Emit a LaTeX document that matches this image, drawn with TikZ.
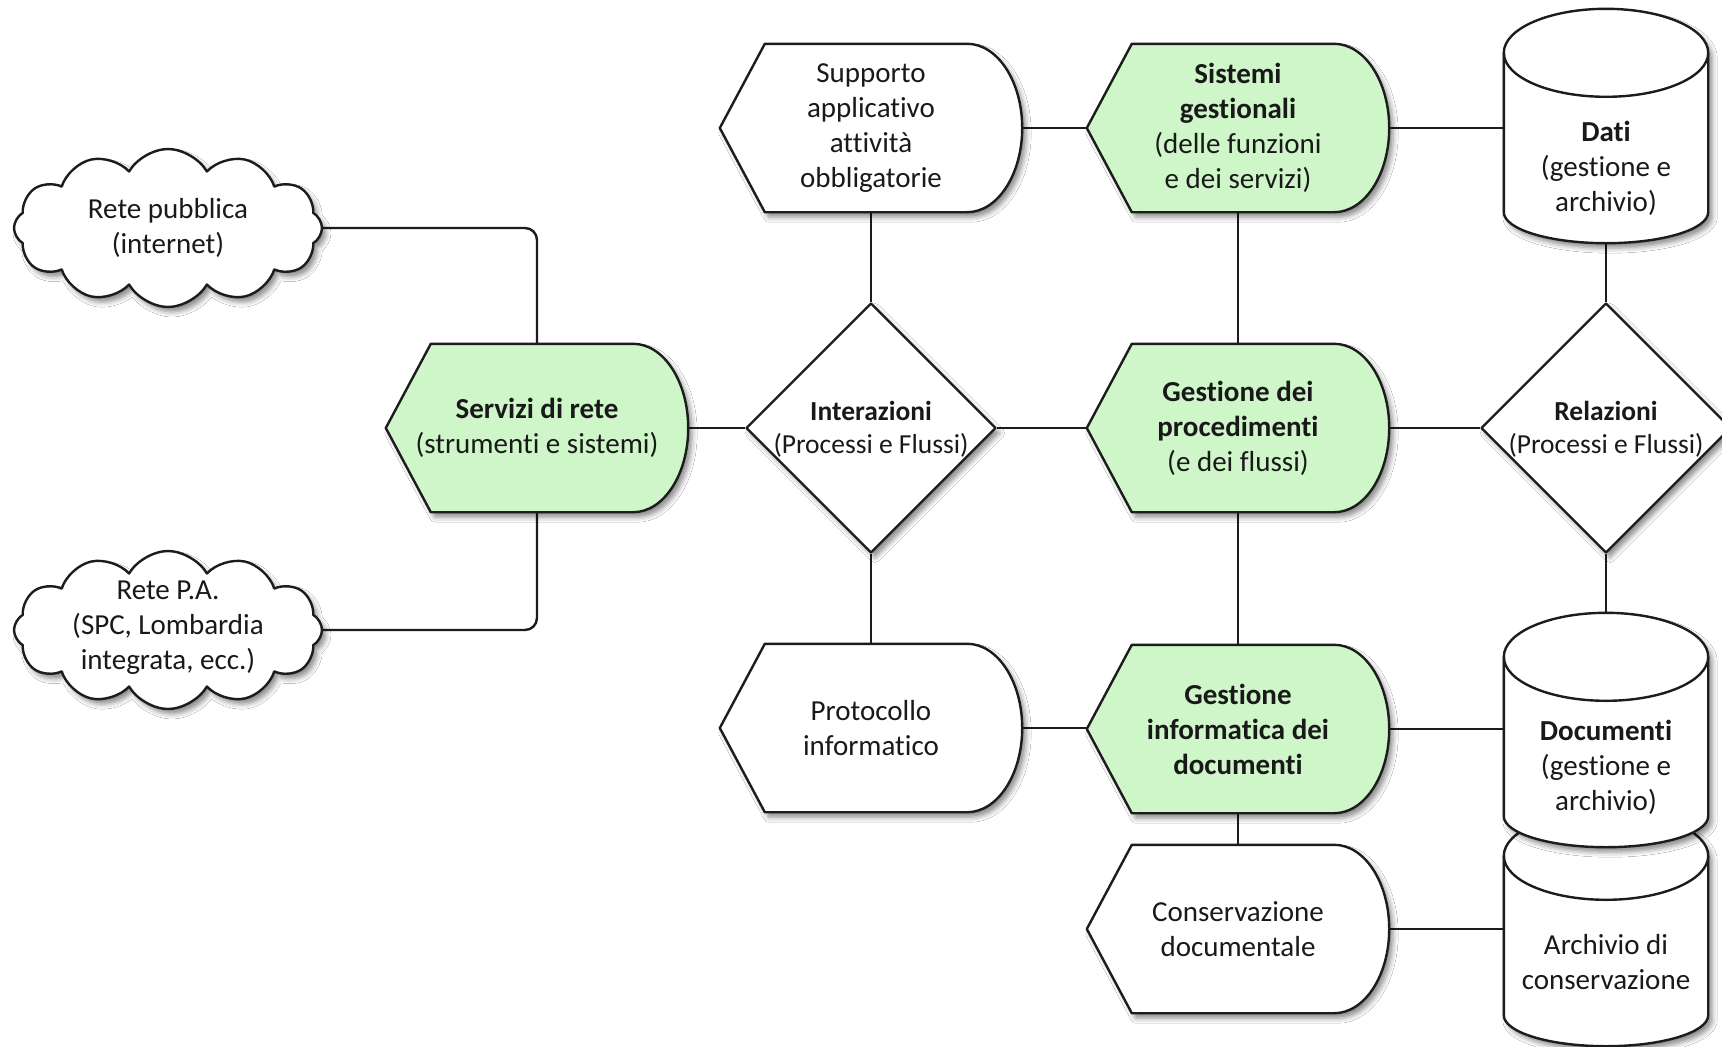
\documentclass[tikz,border=0pt]{standalone}
\usepackage{fontspec}
\setmainfont{Carlito}[Ligatures={NoCommon}]
\usetikzlibrary{shapes.geometric,shapes.symbols,shadows.blur}

\makeatletter
% Flowchart "display" outline: pointed left end, flat top and bottom, rounded right end
\pgfdeclareshape{displaybox}{
  \inheritsavedanchors[from=rectangle]
  \inheritanchorborder[from=rectangle]
  \inheritanchor[from=rectangle]{center}
  \inheritanchor[from=rectangle]{north}
  \inheritanchor[from=rectangle]{south}
  \inheritanchor[from=rectangle]{east}
  \inheritanchor[from=rectangle]{west}
  \backgroundpath{
    \southwest \edef\dsxa{\the\pgf@x}\edef\dsya{\the\pgf@y}
    \northeast \edef\dsxb{\the\pgf@x}\edef\dsyb{\the\pgf@y}
    \pgfmathsetmacro\dsym{(\dsya+\dsyb)/2}
    \pgfmathsetmacro\dsry{(\dsyb-\dsya)/2}
    \pgfpathmoveto{\pgfpoint{\dsxa}{\dsym pt}}
    \pgfpathlineto{\pgfpoint{\dsxa+45pt}{\dsyb}}
    \pgfpathlineto{\pgfpoint{\dsxb-55pt}{\dsyb}}
    \pgfpatharc{90}{-90}{55pt and \dsry pt}
    \pgfpathlineto{\pgfpoint{\dsxa+45pt}{\dsya}}
    \pgfpathclose
  }
}
% Upright storage cylinder: tall top ellipse, flatter bottom arc
\pgfdeclareshape{dbcylinder}{
  \inheritsavedanchors[from=rectangle]
  \inheritanchorborder[from=rectangle]
  \inheritanchor[from=rectangle]{center}
  \inheritanchor[from=rectangle]{north}
  \inheritanchor[from=rectangle]{south}
  \inheritanchor[from=rectangle]{east}
  \inheritanchor[from=rectangle]{west}
  \backgroundpath{
    \southwest \edef\cyxa{\the\pgf@x}\edef\cyya{\the\pgf@y}
    \northeast \edef\cyxb{\the\pgf@x}\edef\cyyb{\the\pgf@y}
    \pgfmathsetmacro\cyrx{(\cyxb-\cyxa)/2}
    \pgfpathmoveto{\pgfpoint{\cyxa}{\cyyb-44pt}}
    \pgfpathlineto{\pgfpoint{\cyxa}{\cyya+31pt}}
    \pgfpatharc{180}{360}{\cyrx pt and 31pt}
    \pgfpathlineto{\pgfpoint{\cyxb}{\cyyb-44pt}}
    \pgfpatharc{0}{180}{\cyrx pt and 44pt}
    \pgfpathclose
  }
  \beforeforegroundpath{
    \southwest \edef\cyxa{\the\pgf@x}
    \northeast \edef\cyxb{\the\pgf@x}\edef\cyyb{\the\pgf@y}
    \pgfmathsetmacro\cyrx{(\cyxb-\cyxa)/2}
    \pgfpathmoveto{\pgfpoint{\cyxa}{\cyyb-44pt}}
    \pgfpatharc{180}{360}{\cyrx pt and 44pt}
    \pgfusepath{stroke}
  }
}
\makeatother

\pgfdeclarelayer{bg}
\pgfsetlayers{bg,main}

\definecolor{linecol}{RGB}{28,28,28}
\definecolor{greenfill}{RGB}{206,246,200}
\definecolor{txtcol}{RGB}{25,25,25}

\tikzset{
  shapeline/.style={draw=linecol, line width=2.4pt, line join=round},
  softshadow/.style={blur shadow={shadow xshift=4pt, shadow yshift=-5pt,
      shadow blur radius=5pt, shadow opacity=45}},
  txtfont/.style={font=\fontsize{29}{35}\selectfont, text=txtcol},
  disp/.style={shape=displaybox, shapeline, softshadow, minimum width=300pt,
      minimum height=166pt, inner sep=0pt, align=center, txtfont},
  dispgreen/.style={disp, fill=greenfill},
  dispwhite/.style={disp, fill=white},
  decision/.style={shape=diamond, shapeline, softshadow, fill=white,
      minimum width=250pt, minimum height=250pt, inner sep=0pt},
  store/.style={shape=dbcylinder, shapeline, color=linecol, softshadow, fill=white,
      minimum width=202pt, minimum height=232pt, inner sep=0pt},
  netcloud/.style={shape=cloud, cloud puffs=12, cloud puff arc=120, aspect=1.9,
      shapeline, softshadow, fill=white, minimum width=308pt, minimum height=158pt,
      inner sep=0pt},
  inscr/.style={align=center, inner sep=0pt, txtfont},
  inscrsmall/.style={align=center, inner sep=0pt,
      font=\fontsize{27.5}{33}\selectfont, text=txtcol},
  link/.style={draw=linecol, line width=2.4pt},
}

\begin{document}
\begin{tikzpicture}[x=1pt, y=-1pt]
  \useasboundingbox (0,0) rectangle (1722,1047);

  % networks
  \node[netcloud] (cl1) at (168,228) {};
  \node[inscr] (cl1t) at (168,228) {Rete pubblica\\(internet)};
  \node[netcloud] (cl2) at (168,630) {};
  \node[inscr] (cl2t) at (168,628) {Rete P.A.\\(SPC, Lombardia\\integrata, ecc.)};

  % process blocks
  \node[dispgreen] (serv) at (537,428)
    {\textbf{Servizi di rete}\\(strumenti e sistemi)};
  \node[dispwhite] (supp) at (871,128)
    {Supporto\\applicativo\\attività\\obbligatorie};
  \node[dispgreen] (sist) at (1238,128)
    {\textbf{Sistemi}\\\textbf{gestionali}\\(delle funzioni\\e dei servizi)};
  \node[dispgreen] (gproc) at (1238,428)
    {\textbf{Gestione dei}\\\textbf{procedimenti}\\(e dei flussi)};
  \node[dispwhite] (prot) at (871,728)
    {Protocollo\\informatico};
  \node[dispgreen] (ginf) at (1238,729)
    {\textbf{Gestione}\\\textbf{informatica dei}\\\textbf{documenti}};
  \node[dispwhite] (cons) at (1238,929)
    {Conservazione\\documentale};

  % decisions
  \node[decision] (inter) at (871,428) {};
  \node[inscrsmall] (intert) at (871,429) {\textbf{Interazioni}\\(Processi e Flussi)};
  \node[decision] (rel) at (1606,428) {};
  \node[inscrsmall] (relt) at (1606,429) {\textbf{Relazioni}\\(Processi e Flussi)};

  % storage
  \node[store] (dati) at (1606,126) {};
  \node[inscr] (datit) at (1606,168) {\textbf{Dati}\\(gestione e\\archivio)};
  \node[store] (arch) at (1606,929) {};
  \node[inscr] (archt) at (1606,962) {Archivio di\\conservazione};
  \node[store] (doc) at (1606,730) {};
  \node[inscr] (doct) at (1606,767) {\textbf{Documenti}\\(gestione e\\archivio)};

  % connectors, kept under the shapes
  \begin{pgfonlayer}{bg}
    \fill[white] (0,0) rectangle (1722,1047);
    \draw[link, rounded corners=12pt] (cl1.east) -| (serv.north);
    \draw[link, rounded corners=12pt] (serv.south) |- (cl2.east);
    \draw[link] (serv.east) -- (inter.west);
    \draw[link] (inter.east) -- (gproc.west);
    \draw[link] (gproc.east) -- (rel.west);
    \draw[link] (supp.south) -- (inter.north);
    \draw[link] (inter.south) -- (prot.north);
    \draw[link] (supp.east) -- (sist.west);
    \draw[link] (sist.south) -- (gproc.north);
    \draw[link] (gproc.south) -- (ginf.north);
    \draw[link] (prot.east) -- (prot.east -| ginf.west);
    \draw[link] (ginf.east) -- (ginf.east -| doc.west);
    \draw[link] (ginf.south) -- (cons.north);
    \draw[link] (cons.east) -- (cons.east -| arch.west);
    \draw[link] (sist.east) -- (sist.east -| dati.west);
    \draw[link] (dati.south) -- (rel.north);
    \draw[link] (rel.south) -- (doc.north);
  \end{pgfonlayer}
\end{tikzpicture}
\end{document}
